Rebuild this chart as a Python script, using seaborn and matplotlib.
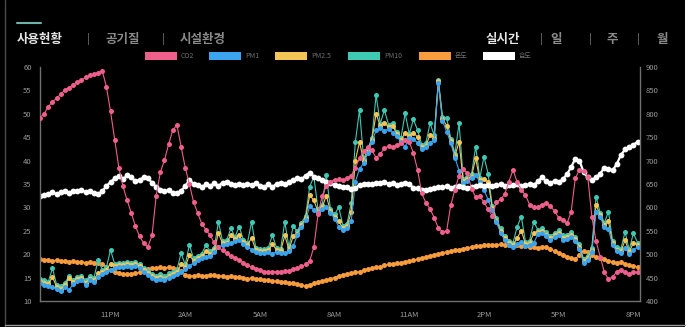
import numpy as np
import pandas as pd
import matplotlib
matplotlib.use('Agg')
import matplotlib.pyplot as plt
import seaborn as sns
from matplotlib.patches import Rectangle
from matplotlib.lines import Line2D

# ---------------- data (10-minute readings) ----------------
start_time = '2023-03-01 20:10'
end_time = '2023-03-02 20:16'

co2 = [792, 800, 815, 826, 833, 842, 851, 856, 862, 868, 872, 878, 882, 884, 888, 892,
       858, 805, 745, 685, 645, 615, 588, 560, 538, 524, 516, 540, 625, 675, 701, 735,
       765, 776, 730, 685, 650, 612, 588, 565, 552, 540, 525, 515, 508, 502, 496, 492,
       488, 482, 476, 472, 469, 466, 463, 462, 462, 463, 463, 464, 465, 468, 470, 474,
       478, 486, 515, 585, 625, 645, 655, 659, 660, 658, 662, 668, 685, 705, 720, 728,
       722, 706, 714, 726, 731, 729, 733, 738, 744, 740, 716, 680, 630, 610, 597, 578,
       556, 548, 550, 605, 638, 668, 681, 674, 640, 622, 624, 611, 596, 582, 612, 617,
       628, 655, 680, 654, 638, 626, 606, 600, 601, 606, 609, 603, 592, 578, 574, 566,
       590, 662, 680, 677, 666, 580, 528, 495, 462, 446, 452, 462, 467, 462, 458, 462,
       461]

pm1 = [13.8, 13.5, 13.2, 13.0, 12.6, 12.2, 13.0, 12.4, 13.6, 14.2, 14.5, 13.5, 14.4, 14.0, 15.2, 15.8,
       16.3, 16.6, 17.0, 17.3, 17.2, 17.4, 17.3, 17.5, 17.0, 16.2, 15.6, 14.9, 14.5, 14.8, 14.4, 15.0,
       15.3, 15.8, 16.3, 16.9, 17.4, 18.2, 18.8, 19.2, 19.5, 19.7, 20.5, 21.6, 21.9, 22.1, 22.4, 22.8,
       23.0, 22.2, 21.6, 21.0, 20.5, 20.3, 20.2, 20.4, 20.1, 20.5, 20.3, 20.2, 20.6, 21.8, 24.0, 25.8,
       27.3, 30.2, 29.5, 28.7, 29.6, 30.1, 28.8, 27.6, 25.9, 25.2, 25.6, 27.0, 35.5, 38.2, 39.5, 41.6,
       44.0, 46.5, 47.0, 46.4, 46.8, 46.0, 45.2, 44.0, 43.0, 44.8, 44.6, 43.8, 42.5, 42.8, 43.8, 44.5,
       56.5, 48.5, 46.2, 43.8, 40.6, 37.8, 35.2, 35.6, 36.2, 37.0, 35.4, 33.8, 31.6, 29.4, 26.8, 24.6,
       23.0, 22.0, 21.5, 22.2, 22.6, 21.8, 22.0, 22.4, 24.3, 24.6, 23.8, 23.0, 23.6, 24.2, 23.1, 23.2,
       23.7, 22.8, 21.2, 18.1, 18.8, 20.5, 29.0, 28.0, 25.8, 25.4, 21.9, 20.6, 20.2, 21.3, 20.0, 20.8,
       21.6]

pm25 = [14.2, 13.9, 13.6, 15.2, 13.0, 12.6, 13.4, 14.9, 14.0, 14.6, 14.9, 13.9, 14.8, 14.4, 16.0, 16.2,
        16.7, 18.0, 17.4, 17.7, 17.6, 17.8, 17.7, 17.9, 17.4, 16.6, 16.0, 15.3, 14.9, 15.2, 14.8, 15.4,
        15.7, 16.2, 17.8, 17.3, 19.8, 18.6, 19.2, 19.6, 20.6, 20.1, 20.9, 24.5, 22.3, 22.5, 24.0, 23.2,
        24.0, 22.6, 22.0, 23.5, 20.9, 20.7, 20.6, 20.8, 22.2, 20.9, 20.7, 24.0, 21.0, 23.8, 24.4, 26.2,
        27.7, 32.6, 31.5, 29.1, 30.0, 32.5, 29.2, 28.0, 27.0, 25.6, 26.0, 29.0, 40.0, 44.0, 39.9, 42.0,
        44.4, 50.0, 47.4, 48.0, 47.2, 47.5, 45.6, 44.4, 46.0, 45.2, 46.0, 45.0, 42.9, 43.2, 45.5, 44.9,
        57.0, 48.9, 47.5, 44.2, 41.0, 44.0, 35.6, 36.0, 36.6, 40.5, 35.8, 36.0, 35.5, 29.8, 27.2, 25.0,
        23.4, 22.4, 21.9, 23.5, 25.0, 22.2, 22.4, 24.5, 24.7, 25.0, 24.2, 23.4, 24.0, 24.6, 23.5, 23.6,
        24.1, 23.2, 21.6, 18.5, 19.2, 20.9, 30.5, 28.4, 26.2, 27.0, 22.3, 21.0, 20.6, 23.0, 20.4, 22.5,
        22.0]

pm10 = [14.7, 14.4, 14.1, 17.0, 13.5, 13.1, 13.9, 15.3, 14.5, 15.1, 15.4, 14.4, 15.3, 14.9, 18.8, 16.7,
        17.2, 20.9, 17.9, 18.2, 18.1, 18.3, 18.2, 18.4, 17.9, 17.1, 16.5, 15.8, 15.4, 15.7, 15.3, 15.9,
        16.2, 16.7, 20.2, 17.8, 22.0, 19.1, 19.7, 20.1, 22.0, 20.6, 21.4, 26.9, 22.8, 23.0, 25.5, 23.7,
        25.9, 23.1, 22.5, 26.9, 21.4, 21.2, 21.1, 21.3, 24.1, 21.4, 21.2, 26.9, 21.5, 26.0, 24.9, 26.7,
        28.2, 34.4, 36.6, 29.6, 30.5, 36.9, 29.7, 28.5, 30.1, 26.1, 26.5, 30.9, 44.0, 50.8, 40.4, 42.5,
        44.9, 54.0, 47.9, 50.8, 47.7, 48.0, 46.1, 44.9, 50.1, 45.7, 48.8, 46.5, 43.4, 43.7, 48.0, 45.4,
        57.2, 49.4, 49.1, 44.7, 41.5, 48.0, 36.1, 36.5, 37.1, 43.0, 36.3, 40.8, 37.2, 30.3, 27.7, 25.5,
        23.9, 22.9, 22.4, 25.9, 28.0, 22.7, 22.9, 26.9, 25.2, 25.5, 24.7, 23.9, 24.5, 25.1, 24.0, 24.1,
        24.8, 23.7, 22.1, 19.0, 19.7, 21.4, 32.3, 28.9, 26.7, 29.1, 22.8, 21.5, 21.1, 24.8, 20.9, 24.5,
        22.5]

temperature = [18.9, 18.7, 18.8, 18.6, 18.7, 18.5, 18.6, 18.4, 18.5, 18.3, 18.4, 18.2, 18.3, 18.1, 18.2, 17.9,
               17.2, 16.6, 16.2, 15.9, 15.8, 15.7, 15.8, 15.9, 16.1, 16.5, 16.8, 17.0, 17.1, 17.2, 17.1, 17.2,
               17.0, 16.9, 16.4, 15.6, 15.3, 15.4, 15.5, 15.3, 15.4, 15.6, 15.5, 15.3, 15.4, 15.2, 15.3, 15.1,
               15.2, 15.0, 14.8, 14.9, 14.6, 14.7, 14.4, 14.5, 14.2, 14.3, 14.1, 14.0, 13.8, 13.9, 13.6, 13.4,
               13.2, 13.5, 13.8, 14.0, 14.3, 14.5, 14.8, 15.0, 15.3, 15.6, 15.8, 15.9, 16.1, 16.3, 16.6, 16.9,
               17.0, 17.2, 17.3, 17.6, 17.8, 17.9, 18.1, 18.2, 18.4, 18.5, 18.8, 18.9, 19.2, 19.4, 19.7, 19.9,
               20.1, 20.3, 20.5, 20.6, 20.8, 21.0, 21.2, 21.4, 21.5, 21.7, 21.8, 21.9, 22.0, 21.9, 22.0, 22.1,
               22.0, 21.9, 22.0, 21.9, 21.8, 21.7, 21.6, 21.5, 21.4, 21.5, 21.6, 21.2, 20.6, 20.2, 19.8, 19.5,
               19.2, 19.0, 19.8, 20.6, 20.4, 19.8, 19.5, 19.2, 18.9, 18.6, 18.4, 18.1, 18.3, 18.0, 17.7, 17.5,
               17.3]

humidity = [32.4, 32.6, 32.9, 33.3, 32.8, 33.2, 33.6, 33.1, 33.5, 33.4, 33.8, 33.2, 33.6, 33.1, 32.9, 33.4,
            34.6, 35.4, 36.2, 36.8, 36.0, 36.9, 36.4, 35.6, 35.9, 36.4, 36.2, 35.3, 34.4, 33.8, 33.4, 33.7,
            33.1, 33.0, 33.6, 34.5, 35.9, 35.0, 34.8, 34.4, 34.9, 34.5, 35.2, 34.6, 35.3, 35.5, 34.9, 34.8,
            35.0, 34.7, 35.1, 34.8, 35.2, 34.6, 34.3, 34.9, 34.4, 35.0, 35.3, 34.9, 35.5, 35.8, 36.3, 36.0,
            36.8, 37.4, 36.6, 36.2, 35.9, 35.4, 35.2, 34.8, 34.5, 34.3, 34.4, 34.0, 34.2, 34.8, 35.0, 35.1,
            34.9, 35.2, 35.3, 35.5, 35.0, 35.2, 34.8, 35.1, 35.3, 34.9, 34.2, 34.1, 33.8, 33.7, 33.9, 34.1,
            34.4, 34.3, 34.5, 34.2, 34.4, 34.6, 34.3, 34.2, 34.4, 34.5, 34.7, 34.5, 34.8, 34.6, 34.7, 34.9,
            34.6, 34.8, 34.7, 34.9, 34.6, 34.8, 34.9, 34.7, 35.6, 36.4, 35.6, 35.3, 35.6, 35.4, 36.0, 37.1,
            38.6, 40.4, 40.0, 37.6, 36.4, 35.9, 36.4, 37.2, 38.5, 38.2, 37.9, 39.3, 41.2, 42.4, 42.9, 43.4,
            44.0]

x_tick_times = ['2023-03-01 23:00', '2023-03-02 02:00', '2023-03-02 05:00', '2023-03-02 08:00',
                '2023-03-02 11:00', '2023-03-02 14:00', '2023-03-02 17:00', '2023-03-02 20:00']
x_tick_labels = ['11PM', '2AM', '5AM', '8AM', '11AM', '2PM', '5PM', '8PM']
left_ticks = [10, 15, 20, 25, 30, 35, 40, 45, 50, 55, 60]
right_ticks = [400, 450, 500, 550, 600, 650, 700, 750, 800, 850, 900]

legend_labels = ['CO2', 'PM1', 'PM2.5', 'PM10', '온도', '습도']
series_colors = ['#ef5f8c', '#3aa5ee', '#f4c554', '#3fc9b5', '#f89c3c', '#ffffff']
left_tabs = ['사용현황', '공기질', '시설환경']
right_tabs = ['실시간', '일', '주', '월']

# ---------------- styling ----------------
sns.set_style('dark')
plt.rcParams['font.family'] = ['Noto Sans CJK KR', 'DejaVu Sans']

W, H = 692, 327
fig = plt.figure(figsize=(W / 100, H / 100), dpi=100, facecolor='black')

def fx(px):
    return px / W

def fy(py):
    return 1 - py / H

ax = fig.add_axes([fx(40), fy(301), 600 / W, 234 / H])
ax.set_facecolor('black')
ax2 = ax.twinx()

times = pd.date_range(start_time, periods=len(co2), freq='10min')
df = pd.DataFrame({'time': times, 'co2': co2, 'pm1': pm1, 'pm25': pm25,
                   'pm10': pm10, 'temp': temperature, 'hum': humidity})

kw = dict(marker='o', markersize=3.6, markeredgewidth=0, linewidth=0.8, legend=False)
sns.lineplot(data=df, x='time', y='temp', ax=ax, color=series_colors[4], **kw)
sns.lineplot(data=df, x='time', y='pm10', ax=ax, color=series_colors[3], **kw)
sns.lineplot(data=df, x='time', y='pm25', ax=ax, color=series_colors[2], **kw)
sns.lineplot(data=df, x='time', y='pm1', ax=ax, color=series_colors[1], **kw)
sns.lineplot(data=df, x='time', y='hum', ax=ax, color=series_colors[5],
             marker='o', markersize=4.2, markeredgewidth=0, linewidth=1.6, legend=False)
sns.lineplot(data=df, x='time', y='co2', ax=ax2, color=series_colors[0], **kw)

ax.set_ylim(10, 60)
ax2.set_ylim(400, 900)
ax.set_xlim(pd.Timestamp(start_time), pd.Timestamp(end_time))
ax.set_yticks(left_ticks)
ax2.set_yticks(right_ticks)
ax.set_xticks(pd.to_datetime(x_tick_times))
ax.set_xticklabels(x_tick_labels)
for a in (ax, ax2):
    a.set_xlabel('')
    a.set_ylabel('')
    a.grid(False)
    for s in a.spines.values():
        s.set_visible(False)
ax.tick_params(axis='x', length=0, pad=7, labelsize=5.5, colors='#9a9a9a')
ax.tick_params(axis='y', length=0, pad=6, labelsize=5.5, colors='#9a9a9a')
ax2.tick_params(axis='y', length=0, pad=4, labelsize=5.5, colors='#9a9a9a')
for side in ('left', 'bottom'):
    ax.spines[side].set_visible(True)
    ax.spines[side].set_color('#707070')
    ax.spines[side].set_linewidth(1)
ax2.spines['right'].set_visible(True)
ax2.spines['right'].set_color('#707070')
ax2.spines['right'].set_linewidth(1)

# ---------------- legend (top, centred) ----------------
leg_patch_x = [145, 209, 275, 348, 419, 483]
for lx, lab, col in zip(leg_patch_x, legend_labels, series_colors):
    fig.add_artist(Rectangle((fx(lx), fy(59.5)), 32 / W, 7 / H, transform=fig.transFigure,
                             facecolor=col, edgecolor='none'))
    fig.text(fx(lx + 36), fy(56), lab, color='#6f6f6f', fontsize=5, va='center', ha='left')

# ---------------- header tabs ----------------
fig.add_artist(Line2D([fx(17), fx(41)], [fy(23), fy(23)], transform=fig.transFigure,
                      color='#6fb3a8', linewidth=1.5))
tab_x = [17, 105, 180]
for i, (tx, t) in enumerate(zip(tab_x, left_tabs)):
    fig.text(fx(tx), fy(39), t, color='#e6e6e6' if i == 0 else '#8a8a8a', fontsize=9,
             fontweight='bold', va='center', ha='left')
for sx in (88, 163):
    fig.text(fx(sx), fy(39), '|', color='#8a8a8a', fontsize=7, va='center', ha='center')
rtab_x = [503, 556, 612, 662]
for i, (tx, t) in enumerate(zip(rtab_x, right_tabs)):
    fig.text(fx(tx), fy(39), t, color='#e6e6e6' if i == 0 else '#8a8a8a', fontsize=9,
             fontweight='bold', va='center', ha='center')
for sx in (541, 590, 638):
    fig.text(fx(sx), fy(39), '|', color='#8a8a8a', fontsize=7, va='center', ha='center')

# ---------------- frame of the screenshot ----------------
fig.add_artist(Rectangle((fx(685), 0), (W - 685) / W, 1, transform=fig.transFigure,
                         facecolor='white', edgecolor='none'))
fig.add_artist(Line2D([fx(5), fx(5)], [0, 1], transform=fig.transFigure, color='#4a4a4a', linewidth=1))
fig.add_artist(Line2D([fx(5), fx(685)], [fy(325), fy(325)], transform=fig.transFigure,
                      color='#9a9a9a', linewidth=1))

fig.savefig('out.png', dpi=100, facecolor='black')
